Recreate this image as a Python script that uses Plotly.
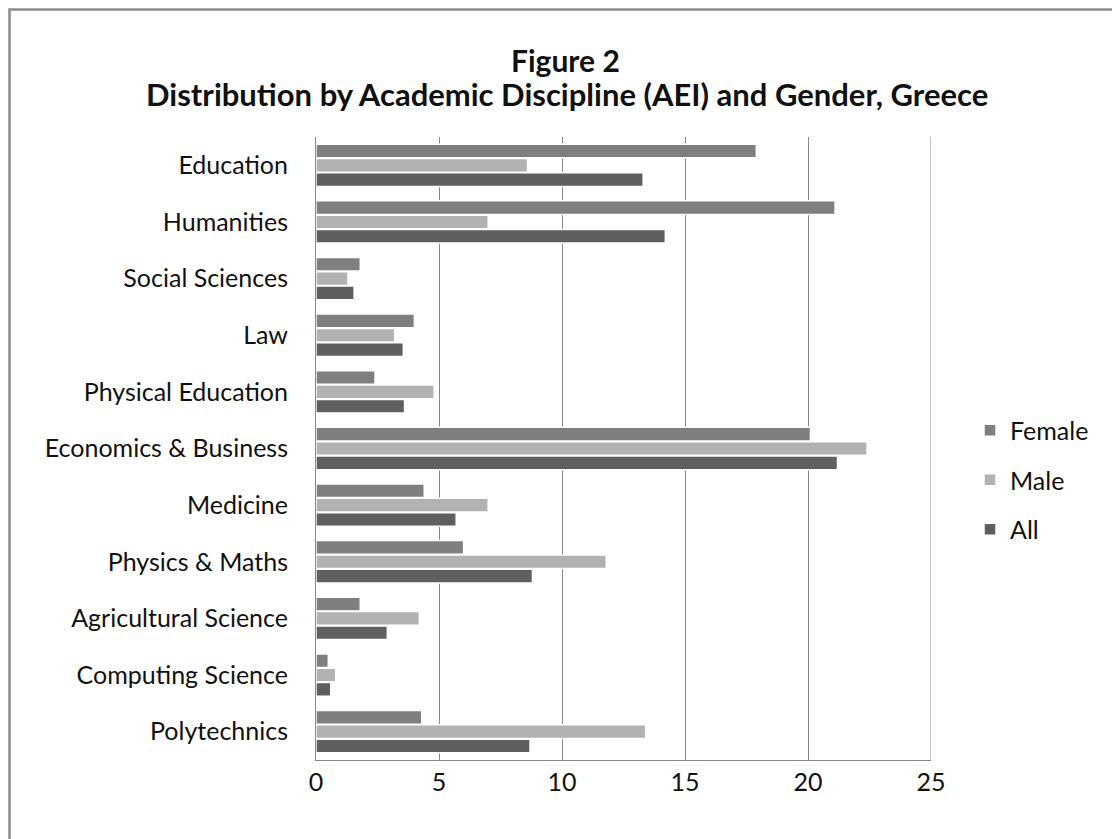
import plotly.graph_objects as go

categories = ["Education", "Humanities", "Social Sciences", "Law", "Physical Education",
              "Economics & Business", "Medicine", "Physics & Maths", "Agricultural Science",
              "Computing Science", "Polytechnics"]
female = [17.9, 21.1, 1.8, 4.0, 2.4, 20.1, 4.4, 6.0, 1.8, 0.5, 4.3]
male = [8.6, 7.0, 1.3, 3.2, 4.8, 22.4, 7.0, 11.8, 4.2, 0.8, 13.4]
all_ = [13.3, 14.2, 1.55, 3.55, 3.6, 21.2, 5.7, 8.8, 2.9, 0.6, 8.7]
title_lines = ["Figure 2", "Distribution by Academic Discipline (AEI) and Gender, Greece"]

series = [("Female", female, "#7f7f7f"), ("Male", male, "#b2b2b2"), ("All", all_, "#5f5f5f")]

FONT = "Lato, 'Open Sans', 'DejaVu Sans', sans-serif"

fig = go.Figure()
for name, vals, col in series:
    fig.add_trace(go.Bar(
        y=categories, x=vals, name=name, orientation="h", legendgroup=name,
        marker=dict(color=col, line=dict(color="white", width=1.5)),
    ))

# page is offset by 8px body margin; work in figure coordinates
OFF = 8
W, H = 1120, 839
L, T = 316 - OFF, 137 - OFF
R = W - (931 - OFF)
B = H - (760 - OFF)
pw, ph = W - L - R, H - T - B

def px(xp):
    return (xp - OFF - L) / pw

def py(yp):
    return (H - B - (yp - OFF)) / ph

fig.update_layout(
    width=W, height=H,
    margin=dict(l=L, r=R, t=T, b=B),
    paper_bgcolor="white", plot_bgcolor="white",
    barmode="group", bargap=0.24, bargroupgap=0.05,
    font=dict(family=FONT, size=25, color="#111"),
    legend=dict(x=px(970), xanchor="left", y=py(480), yanchor="middle",
                font=dict(size=25, color="#111"), tracegroupgap=14,
                bgcolor="rgba(0,0,0,0)"),
    xaxis=dict(range=[0, 25], dtick=5, tick0=0, showgrid=True, gridcolor="#888888",
               gridwidth=1, zeroline=False, showline=True, linecolor="#888888",
               mirror=False, ticks="", ticklabelstandoff=0,
               tickfont=dict(size=25, color="#111")),
    yaxis=dict(autorange="reversed", showline=True, linecolor="#888888", showgrid=False,
               ticks="", ticklabelstandoff=22, tickfont=dict(size=25, color="#111")),
    annotations=[
        dict(text="<b>%s</b>" % title_lines[0], xref="paper", yref="paper",
             x=px(565), y=py(60), xanchor="center", yanchor="middle", showarrow=False,
             font=dict(family=FONT, size=30, color="#111")),
        dict(text="<b>%s</b>" % title_lines[1], xref="paper", yref="paper",
             x=px(567), y=py(94), xanchor="center", yanchor="middle", showarrow=False,
             font=dict(family=FONT, size=31, color="#111")),
    ],
    shapes=[
        dict(type="rect", xref="paper", yref="paper",
             x0=px(9.5), x1=px(1140), y0=py(860), y1=py(9.5),
             line=dict(color="#8c8c8c", width=2.5), fillcolor="rgba(0,0,0,0)", layer="below"),
        dict(type="line", xref="x", yref="paper", x0=25, x1=25, y0=0, y1=1,
             line=dict(color="#888888", width=1)),
    ],
)

fig.write_html("out.html")
